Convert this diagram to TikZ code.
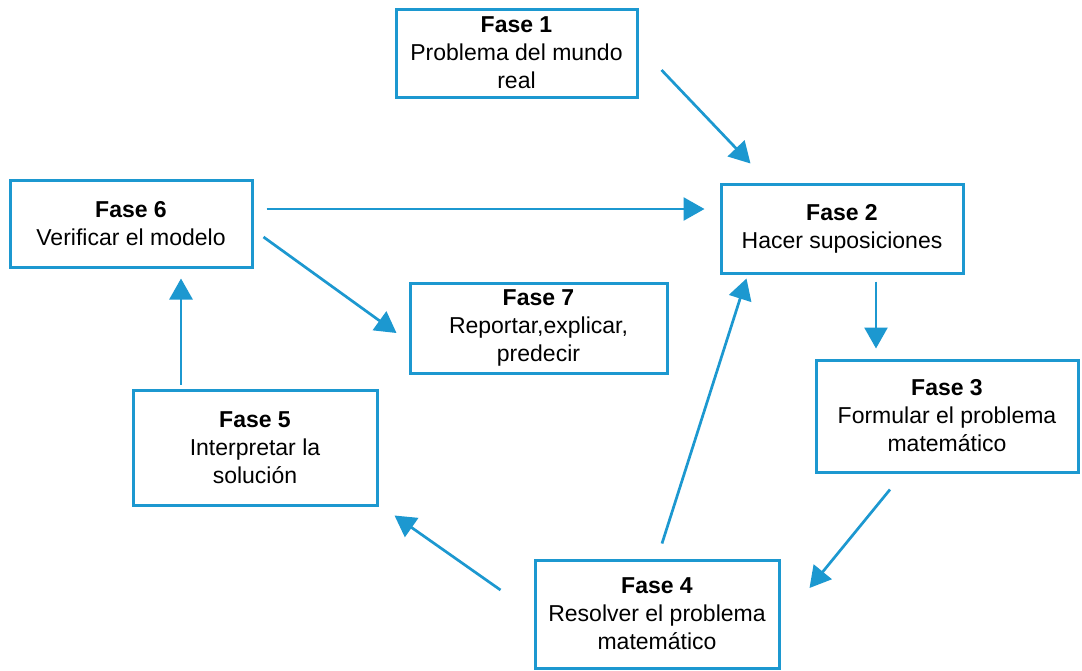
\documentclass[tikz,border=0pt]{standalone}
\usepackage{fontspec}
\setmainfont{Liberation Sans}
\usetikzlibrary{arrows.meta,calc}
\definecolor{fblue}{RGB}{28,152,208}
\begin{document}
\begin{tikzpicture}[x=1pt,y=-1pt,
  phase/.style={draw=fblue,line width=3pt,fill=white,align=center,inner sep=0pt,
    font=\fontsize{23}{28}\selectfont},
  arr/.style={draw=fblue,line width=2.7pt,-{Triangle[length=21pt,width=23pt]}}]
\useasboundingbox[fill=white] (0,0) rectangle (1082,670);
\node[phase,minimum width=241pt,minimum height=88pt] (f1) at (516.5,53) {\textbf{Fase 1}\\Problema del mundo\\real};
\node[phase,minimum width=242pt,minimum height=89pt] (f2) at (842,228.5) {\textbf{Fase 2}\\Hacer suposiciones};
\node[phase,minimum width=262pt,minimum height=112pt] (f3) at (947,416) {\textbf{Fase 3}\\Formular el problema\\matemático};
\node[phase,minimum width=244pt,minimum height=108pt] (f4) at (657,614) {\textbf{Fase 4}\\Resolver el problema\\matemático};
\node[phase,minimum width=244pt,minimum height=115pt] (f5) at (255,447.5) {\textbf{Fase 5}\\Interpretar la\\solución};
\node[phase,minimum width=242pt,minimum height=87pt] (f6) at (131,223.5) {\textbf{Fase 6}\\Verificar el modelo};
\node[phase,minimum width=257pt,minimum height=90pt] (f7) at (538.5,328) {\textbf{Fase 7}\\Reportar,explicar,\\predecir};
\draw[arr] ([shift={(23,17)}]f1.east) -- ([shift={(31,-19)}]f2.north west);
\draw[arr] ([shift={(13,-14.5)}]f6.east) -- ([shift={(-15,-19.5)}]f2.west);
\draw[arr] ([shift={(34,7)}]f2.south) -- ([shift={(-71,-10)}]f3.north);
\draw[arr] ([shift={(-57,16)}]f3.south) -- ([shift={(29,-26)}]f4.east);
\draw[arr] ([shift={(5,-15)}]f4.north) -- ([shift={(27,4)}]f2.south west);
\draw[arr] ([shift={(-33,-24)}]f4.west) -- ([shift={(16,9)}]f5.south east);
\draw[arr] ([shift={(-74,-4)}]f5.north) -- ([shift={(50,10)}]f6.south);
\draw[arr] ([shift={(10,13.5)}]f6.east) -- ([shift={(-12,5)}]f7.west);
\end{tikzpicture}
\end{document}
